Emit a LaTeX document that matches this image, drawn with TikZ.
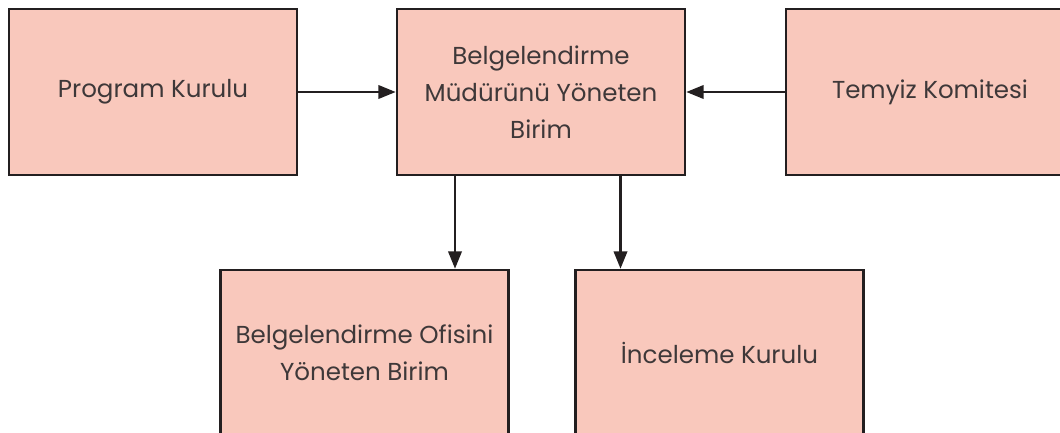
\documentclass[tikz,border=0pt]{standalone}
\usepackage{fontspec}
\setmainfont{Poppins}
\usetikzlibrary{arrows.meta,calc}
\definecolor{boxfill}{RGB}{249,200,188}
\definecolor{boxline}{RGB}{35,31,32}
\definecolor{txt}{RGB}{62,56,57}
\begin{document}
\begin{tikzpicture}[x=0.75pt,y=-0.75pt,
  box/.style={draw=boxline,line width=1.9pt,fill=boxfill,minimum width=216pt,minimum height=124.5pt,
    inner sep=0pt,align=center,text=txt,font=\fontsize{18.4}{27.5}\selectfont},
  arr/.style={draw=boxline,line width=1.9pt,-{Triangle[length=13pt,width=10pt]}}]
\useasboundingbox (0,0) rectangle (1060,432);
\clip (0,0) rectangle (1060,432);
\node[box] (pk) at (153,92) {Program Kurulu};
\node[box] (bm) at (541,92) {Belgelendirme\\Müdürünü Yöneten\\Birim};
\node[box] (tk) at (930,92) {Temyiz Komitesi};
\node[box] (bo) at (364.5,353) {Belgelendirme Ofisini\\Yöneten Birim};
\node[box] (ik) at (719.5,353) {İnceleme Kurulu};
\draw[arr] (pk.east) -- (bm.west);
\draw[arr] (tk.west) -- (bm.west -| bm.east);
\coordinate (d1) at ($(bm.south)+(-86,0)$);
\coordinate (d2) at ($(bm.south)+(79.5,0)$);
\draw[arr] (d1) -- (d1 |- bo.north);
\draw[arr] (d2) -- (d2 |- ik.north);
\end{tikzpicture}
\end{document}
